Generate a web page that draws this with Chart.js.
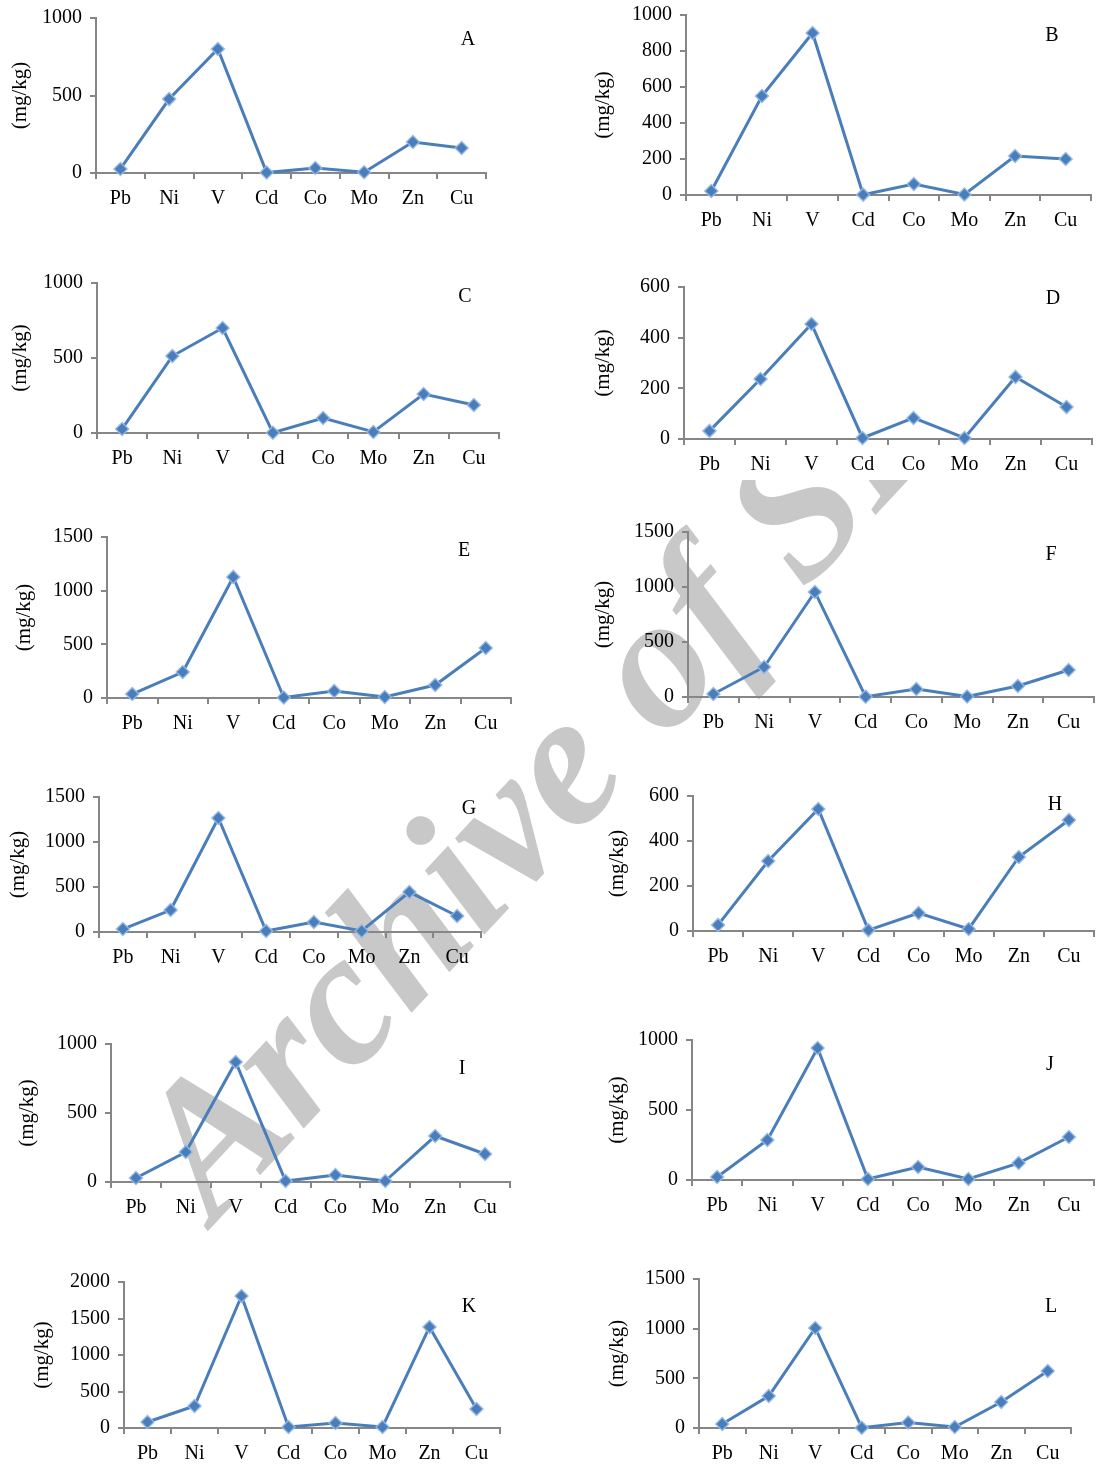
<!DOCTYPE html>
<html>
<head>
<meta charset="utf-8">
<script src="https://cdn.jsdelivr.net/npm/chart.js@4.4.1/dist/chart.umd.min.js"></script>
<style>
  html, body { margin: 0; padding: 0; background: #fff; overflow: hidden; }
  #page { position: relative; width: 1096px; height: 1467px; }
  canvas { position: absolute; }
  .letter { position: absolute; font: 20px "Liberation Serif", "Times New Roman", serif; color: #000; transform: translate(-50%, -50%); }
  #wm { position: absolute; left: 0; top: 480px; width: 1096px; height: 987px; overflow: hidden; }
  #wm span {
    position: absolute; left: 88px; top: 796px; white-space: nowrap;
    font: bold italic 190px "Liberation Serif", "Times New Roman", serif; color: #c8c8c8;
    transform-origin: 0 0; transform: translateY(-170px) rotate(-47deg);
  }
</style>
</head>
<body>
<div id="page">
  <div id="wm"><span>Archive of SID</span></div>
</div>
<script>
// element names on the x axis
const categories = ['Pb', 'Ni', 'V', 'Cd', 'Co', 'Mo', 'Zn', 'Cu'];
const panelLetters = ['A', 'B', 'C', 'D', 'E', 'F', 'G', 'H', 'I', 'J', 'K', 'L'];

// concentrations (mg/kg), one array per panel
const valuesA = [26, 477, 800, 3, 32, 5, 200, 161];
const valuesB = [22, 550, 900, 2, 61, 3, 217, 200];
const valuesC = [27, 513, 700, 2, 100, 7, 260, 187];
const valuesD = [32, 237, 454, 4, 83, 4, 245, 126];
const valuesE = [37, 242, 1128, 5, 65, 9, 121, 466];
const valuesF = [27, 273, 955, 3, 73, 5, 100, 245];
const valuesG = [33, 244, 1267, 11, 111, 11, 444, 178];
const valuesH = [27, 311, 542, 4, 80, 9, 329, 493];
const valuesI = [29, 217, 870, 7, 51, 7, 333, 203];
const valuesJ = [21, 286, 943, 7, 93, 7, 121, 307];
const valuesK = [82, 301, 1808, 14, 68, 14, 1384, 260];
const valuesL = [40, 322, 1007, 3, 55, 10, 262, 574];
const allValues = [valuesA, valuesB, valuesC, valuesD, valuesE, valuesF,
                   valuesG, valuesH, valuesI, valuesJ, valuesK, valuesL];

// y axis ranges
const yMax  = [1000, 1000, 1000, 600, 1500, 1500, 1500, 600, 1000, 1000, 2000, 1500];
const yStep = [500, 200, 500, 200, 500, 500, 500, 200, 500, 500, 500, 500];

// page layout of each panel: axis x, top of y axis, zero line, end of x axis, y title x, letter position
const layout = [
  { axisX: 96,  yTop: 18,   y0: 173,  xEnd: 486,  titleX: 20,  lx: 468,  ly: 38 },
  { axisX: 686, yTop: 15,   y0: 195,  xEnd: 1091, titleX: 603, lx: 1052, ly: 34 },
  { axisX: 97,  yTop: 283,  y0: 433,  xEnd: 499,  titleX: 20,  lx: 465,  ly: 295 },
  { axisX: 684, yTop: 287,  y0: 439,  xEnd: 1092, titleX: 603, lx: 1053, ly: 297 },
  { axisX: 107, yTop: 537,  y0: 698,  xEnd: 511,  titleX: 24,  lx: 464,  ly: 549 },
  { axisX: 688, yTop: 532,  y0: 697,  xEnd: 1094, titleX: 603, lx: 1051, ly: 553 },
  { axisX: 99,  yTop: 797,  y0: 932,  xEnd: 481,  titleX: 18,  lx: 469,  ly: 807 },
  { axisX: 693, yTop: 796,  y0: 931,  xEnd: 1094, titleX: 617, lx: 1055, ly: 803 },
  { axisX: 111, yTop: 1044, y0: 1182, xEnd: 510,  titleX: 27,  lx: 462,  ly: 1067 },
  { axisX: 692, yTop: 1040, y0: 1180, xEnd: 1094, titleX: 617, lx: 1050, ly: 1063 },
  { axisX: 124, yTop: 1282, y0: 1428, xEnd: 500,  titleX: 42,  lx: 469,  ly: 1305 },
  { axisX: 699, yTop: 1279, y0: 1428, xEnd: 1071, titleX: 617, lx: 1051, ly: 1305 }
];

const axisGray = '#868686';
const lineBlue = '#4a7ebb';
const font = { family: '"Liberation Serif", "Times New Roman", serif', size: 20 };
const titleFont = { family: '"Liberation Serif", "Times New Roman", serif', size: 21 };
const padTop = 12, padRight = 2, xAxisH = 44;

const page = document.getElementById('page');

allValues.forEach(function(values, i) {
  const L = layout[i];
  const yWidth = L.axisX - (L.titleX - 12);
  let left = L.axisX - yWidth;
  let top = L.yTop - padTop;
  let w = L.xEnd - left + padRight;
  let h = (L.y0 - L.yTop) + padTop + xAxisH;

  const canvas = document.createElement('canvas');
  canvas.width = w;
  canvas.height = h;
  canvas.style.left = left + 'px';
  canvas.style.top = top + 'px';
  page.appendChild(canvas);

  const letter = document.createElement('div');
  letter.className = 'letter';
  letter.textContent = panelLetters[i];
  letter.style.left = L.lx + 'px';
  letter.style.top = L.ly + 'px';
  page.appendChild(letter);

  const chart = new Chart(canvas.getContext('2d'), {
    type: 'line',
    data: {
      labels: categories,
      datasets: [{
        data: values,
        borderColor: lineBlue,
        borderWidth: 3,
        pointStyle: 'rectRot',
        pointRadius: 6.5,
        pointBackgroundColor: lineBlue,
        pointBorderColor: 'rgba(150,185,230,0.9)',
        pointBorderWidth: 1.5,
        tension: 0,
        clip: false
      }]
    },
    options: {
      responsive: false,
      maintainAspectRatio: false,
      animation: false,
      layout: { padding: { top: padTop, right: padRight, left: 0, bottom: 0 } },
      plugins: { legend: { display: false }, tooltip: { enabled: false } },
      scales: {
        x: {
          offset: true,
          grid: { offset: true, drawOnChartArea: false, color: axisGray, lineWidth: 2, tickLength: 6 },
          border: { color: axisGray, width: 2 },
          ticks: { color: '#000', font: font, padding: 8, maxRotation: 0, autoSkip: false },
          afterFit: function(scale) { scale.height = xAxisH; }
        },
        y: {
          min: 0,
          max: yMax[i],
          grid: { drawOnChartArea: false, color: axisGray, lineWidth: 2, tickLength: 6 },
          border: { color: axisGray, width: 2 },
          ticks: {
            stepSize: yStep[i], color: '#000', font: font, padding: 8,
            callback: function(v) { return String(v); }
          },
          title: { display: true, text: '(mg/kg)', color: '#000', font: titleFont, padding: 0 },
          afterFit: function(scale) { scale.width = yWidth; }
        }
      }
    }
  });

  // line the plot area up with the reference axes
  for (let k = 0; k < 2; k++) {
    const ca = chart.chartArea;
    top += L.yTop - (top + ca.top);
    left += L.axisX - (left + ca.left);
    h += (L.y0 - L.yTop) - (ca.bottom - ca.top);
    w += (L.xEnd - L.axisX) - (ca.right - ca.left);
    chart.resize(w, h);
    canvas.style.left = left + 'px';
    canvas.style.top = top + 'px';
  }
});
</script>
</body>
</html>
